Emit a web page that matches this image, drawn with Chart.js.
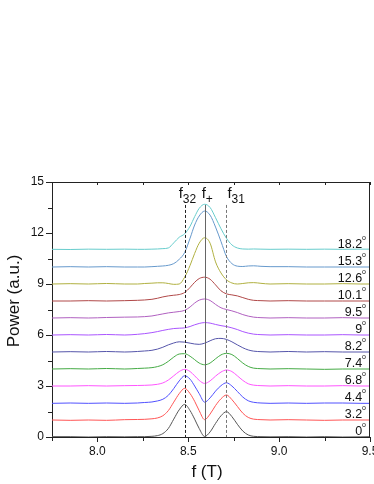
<!DOCTYPE html>
<html><head><meta charset="utf-8">
<script src="https://cdn.jsdelivr.net/npm/chart.js@4"></script>
<style>html,body{margin:0;padding:0;overflow:hidden;background:#fff}#w{width:400px;height:484px;position:relative}</style>
</head><body><div id="w"><canvas id="c"></canvas></div>
<script>
// field values (T)
const fieldT = [7.75,7.85,7.95,8.05,8.15,8.22,8.26,8.30,8.33,8.36,8.39,8.42,8.45,8.48,8.51,8.535,8.56,8.59,8.62,8.65,8.68,8.71,8.74,8.77,8.80,8.83,8.86,8.90,8.95,9.05,9.15,9.25,9.35,9.45,9.5];
const angleLabels = ['0','3.2','4.4','6.8','7.4','8.2','9','9.5','10.1','12.6','15.3','18.2'];
const offsets = [0,1,2,3,4,5,6,7,8,9,10,11];
const colors = ['#555555','#ff5555','#5050ff','#ff55ff','#44aa44','#5555aa','#aa55ff','#b060c0','#b04848','#b0b040','#6699cc','#66cccc'];
const power0   = [0.02,0.02,0.00,0.02,0.01,0.02,0.02, 0.04,0.08,0.2,0.5,1.05,1.6,1.92,1.55,1.05,0.5,0.03,0.3,0.8,1.25,1.49,1.2,0.75,0.35,0.12,0.04,0.02, 0.01,0.02,0.0,0.02,0.0,0.01,0.02];
const power32  = [0.0,-0.02,0.0,-0.02,0.02,0.03,0.04, 0.07,0.12,0.25,0.55,1.05,1.55,1.86,1.55,1.1,0.55,0.02,0.35,0.85,1.25,1.47,1.2,0.8,0.4,0.15,0.05,0.02, 0.0,0.02,0.0,-0.02,0.0,0.0,0.0];
const power44  = [-0.02,0.0,-0.02,0.0,-0.02,0.0,0.03, 0.06,0.12,0.22,0.45,0.85,1.3,1.6,1.4,1.0,0.55,0.05,0.3,0.7,1.02,1.19,1.0,0.68,0.35,0.13,0.04,0.0, -0.02,0.0,-0.02,0.0,0.0,-0.02,-0.02];
const power68  = [0.0,0.0,0.02,0.0,0.02,0.03,0.04, 0.06,0.1,0.18,0.35,0.6,0.85,0.98,0.85,0.6,0.33,0.15,0.3,0.58,0.82,0.94,0.85,0.6,0.33,0.13,0.05,0.02, 0.0,0.02,0.0,0.0,0.02,0.0,0.0];
const power74  = [0.0,0.02,0.0,0.03,0.0,0.03,0.05, 0.08,0.14,0.25,0.45,0.7,0.88,0.9,0.75,0.55,0.35,0.25,0.35,0.6,0.83,0.92,0.85,0.62,0.35,0.15,0.05,0.02, 0.0,0.02,0.0,-0.02,0.0,0.0,0.0];
const power82  = [0.0,0.02,0.0,0.03,0.0,0.03,0.06, 0.1,0.17,0.28,0.42,0.53,0.6,0.58,0.52,0.47,0.45,0.52,0.66,0.78,0.8,0.74,0.6,0.42,0.25,0.12,0.05,0.02, 0.0,0.03,0.0,0.02,0.0,0.0,0.0];
const power90  = [0.0,0.02,0.0,0.03,0.0,0.04,0.08, 0.14,0.2,0.27,0.33,0.38,0.4,0.42,0.5,0.6,0.68,0.73,0.7,0.62,0.55,0.5,0.42,0.32,0.2,0.11,0.05,0.02, 0.0,0.02,0.0,0.0,0.02,0.0,0.0];
const power95  = [0.0,0.02,0.0,0.03,0.05,0.06,0.08, 0.12,0.18,0.24,0.3,0.34,0.38,0.45,0.65,0.88,1.05,1.12,1.03,0.8,0.6,0.5,0.42,0.32,0.2,0.11,0.05,0.02, 0.0,0.02,0.0,0.0,0.02,0.0,0.0];
const power101 = [0.0,0.0,0.02,0.0,0.02,0.04,0.06, 0.1,0.16,0.24,0.3,0.34,0.38,0.5,0.8,1.1,1.32,1.4,1.28,0.95,0.6,0.42,0.36,0.3,0.2,0.1,0.04,0.02, 0.0,0.02,0.0,0.0,0.0,0.0,0.0];
const power126 = [0.0,0.02,0.0,0.03,0.0,0.0,0.03, 0.05,0.07,0.07,0.03,-0.02,0.0,0.4,1.1,1.8,2.4,2.72,2.4,1.3,0.65,0.25,0.06,0.0,0.03,0.07,0.08,0.04, 0.0,0.02,0.0,0.0,0.02,0.0,0.0];
const power153 = [0.0,0.02,0.0,0.02,0.0,0.0,0.0, 0.02,0.04,0.06,0.1,0.2,0.45,0.85,1.7,2.47,3.0,3.29,3.05,2.35,1.5,0.62,0.2,0.05,0.03,0.06,0.07,0.04, 0.02,0.02,0.0,0.0,0.0,0.0,0.0];
const power182 = [0.04,0.03,0.05,0.04,0.05,0.04,0.04, 0.05,0.06,0.08,0.12,0.42,0.75,0.95,1.4,1.96,2.45,2.69,2.5,1.9,1.25,0.69,0.3,0.12,0.06,0.05,0.06,0.05, 0.04,0.05,0.04,0.05,0.04,0.05,0.05];
const powers = [power0,power32,power44,power68,power74,power82,power90,power95,power101,power126,power153,power182];
const markerX = [8.48, 8.59, 8.71];
const markerMain = ['f','f','f'];
const markerSub = ['32','+','31'];
const markerTop = 13.65;
const yTicks = [0,3,6,9,12,15];
const yMinor = [1.5,4.5,7.5,10.5,13.5];
const xTicks = [8.0,8.5,9.0,9.5];
const xMinor = [7.75,8.25,8.75,9.25];
const xTitle = 'f (T)';
const yTitle = 'Power (a.u.)';

const datasets = powers.map((p,i)=>({
  label: angleLabels[i],
  data: fieldT.map((x,j)=>({x:x, y:p[j]+offsets[i]})),
  borderColor: colors[i], borderWidth: 1, pointRadius: 0,
  cubicInterpolationMode: 'monotone', fill:false
}));

const FONT = '"Liberation Sans", Arial, sans-serif';

const deco = {
  id:'deco',
  afterDatasetsDraw(chart){
    const ctx = chart.ctx, xs = chart.scales.x, ys = chart.scales.y, a = chart.chartArea;
    ctx.save();
    // vertical marker lines
    markerX.forEach((v,i)=>{
      const px = Math.round(xs.getPixelForValue(v))+0.5;
      ctx.beginPath();
      ctx.lineWidth = 1;
      if(i===1){ctx.setLineDash([]);ctx.strokeStyle='#666';}
      else if(i===0){ctx.setLineDash([3,2]);ctx.strokeStyle='#222';}
      else {ctx.setLineDash([3,2]);ctx.strokeStyle='#777';}
      ctx.moveTo(px, ys.getPixelForValue(markerTop));
      ctx.lineTo(px, ys.getPixelForValue(0));
      ctx.stroke();
    });
    ctx.setLineDash([]);
    // marker labels
    ctx.fillStyle='#111';
    ctx.textBaseline='alphabetic';
    markerX.forEach((v,i)=>{
      const px = xs.getPixelForValue(v);
      ctx.font = '15px '+FONT;
      const fw = ctx.measureText(markerMain[i]).width;
      const x0 = (i===0) ? px - 6 : (i===1 ? px - 3 : px + 1);
      ctx.textAlign='left';
      ctx.fillText(markerMain[i], x0, 198);
      ctx.font = '12px '+FONT;
      ctx.fillText(markerSub[i], x0+fw, 203);
    });
    // angle labels
    angleLabels.forEach((t,i)=>{
      const py = ys.getPixelForValue(offsets[i]) - 2;
      const xr = 366;
      ctx.font = '7px '+FONT; ctx.textAlign='right';
      ctx.fillText('o', xr, py-8);
      const ow = ctx.measureText('o').width;
      ctx.font = '12.5px '+FONT;
      ctx.fillText(t, xr-ow, py);
    });
    // frame top/right
    ctx.strokeStyle='#222'; ctx.lineWidth=1;
    ctx.beginPath();
    ctx.moveTo(a.left, a.top+0.5); ctx.lineTo(a.right, a.top+0.5);
    ctx.moveTo(a.right-0.5, a.top); ctx.lineTo(a.right-0.5, a.bottom);
    ctx.stroke();
    // minor ticks + top mirror ticks
    ctx.beginPath();
    yMinor.forEach(v=>{const py=Math.round(ys.getPixelForValue(v))+0.5; ctx.moveTo(a.left-4,py); ctx.lineTo(a.left,py);});
    xMinor.forEach(v=>{const px=Math.round(xs.getPixelForValue(v))+0.5; ctx.moveTo(px,a.bottom); ctx.lineTo(px,a.bottom+4);});
    xTicks.concat(xMinor).forEach(v=>{const px=Math.round(xs.getPixelForValue(v))+0.5; ctx.moveTo(px,a.top); ctx.lineTo(px,a.top+3);});
    ctx.stroke();
    // axis titles
    ctx.fillStyle='#111';
    ctx.font='17px '+FONT; ctx.textAlign='center'; ctx.textBaseline='middle';
    ctx.fillText(xTitle, 207, 472);
    ctx.translate(14, 301); ctx.rotate(-Math.PI/2);
    ctx.fillText(yTitle, 0, 0);
    ctx.restore();
  }
};

new Chart(document.getElementById('c'), {
  type:'line',
  data:{datasets},
  options:{
    responsive:true, maintainAspectRatio:false, animation:false,
    layout:{padding:{top:182,right:30,left:0,bottom:0}},
    plugins:{legend:{display:false},tooltip:{enabled:false}},
    scales:{
      x:{type:'linear',min:7.75,max:9.5,
        afterBuildTicks(s){s.ticks = xTicks.map(v=>({value:v}));},
        afterFit(s){s.height=47;},
        grid:{drawOnChartArea:false,tickLength:5,color:'#222'},
        border:{color:'#222',width:1},
        ticks:{color:'#111',padding:2,font:{family:FONT,size:12},callback:v=>Number(v).toFixed(1),maxRotation:0,autoSkip:false},
        title:{display:false}
      },
      y:{min:0,max:15,
        afterBuildTicks(s){s.ticks = yTicks.map(v=>({value:v}));},
        afterFit(s){s.width=52;},
        grid:{drawOnChartArea:false,tickLength:6,color:'#222'},
        border:{color:'#222',width:1},
        ticks:{color:'#111',padding:2,font:{family:FONT,size:12}},
        title:{display:false}
      }
    }
  },
  plugins:[deco]
});
</script>
</body></html>
